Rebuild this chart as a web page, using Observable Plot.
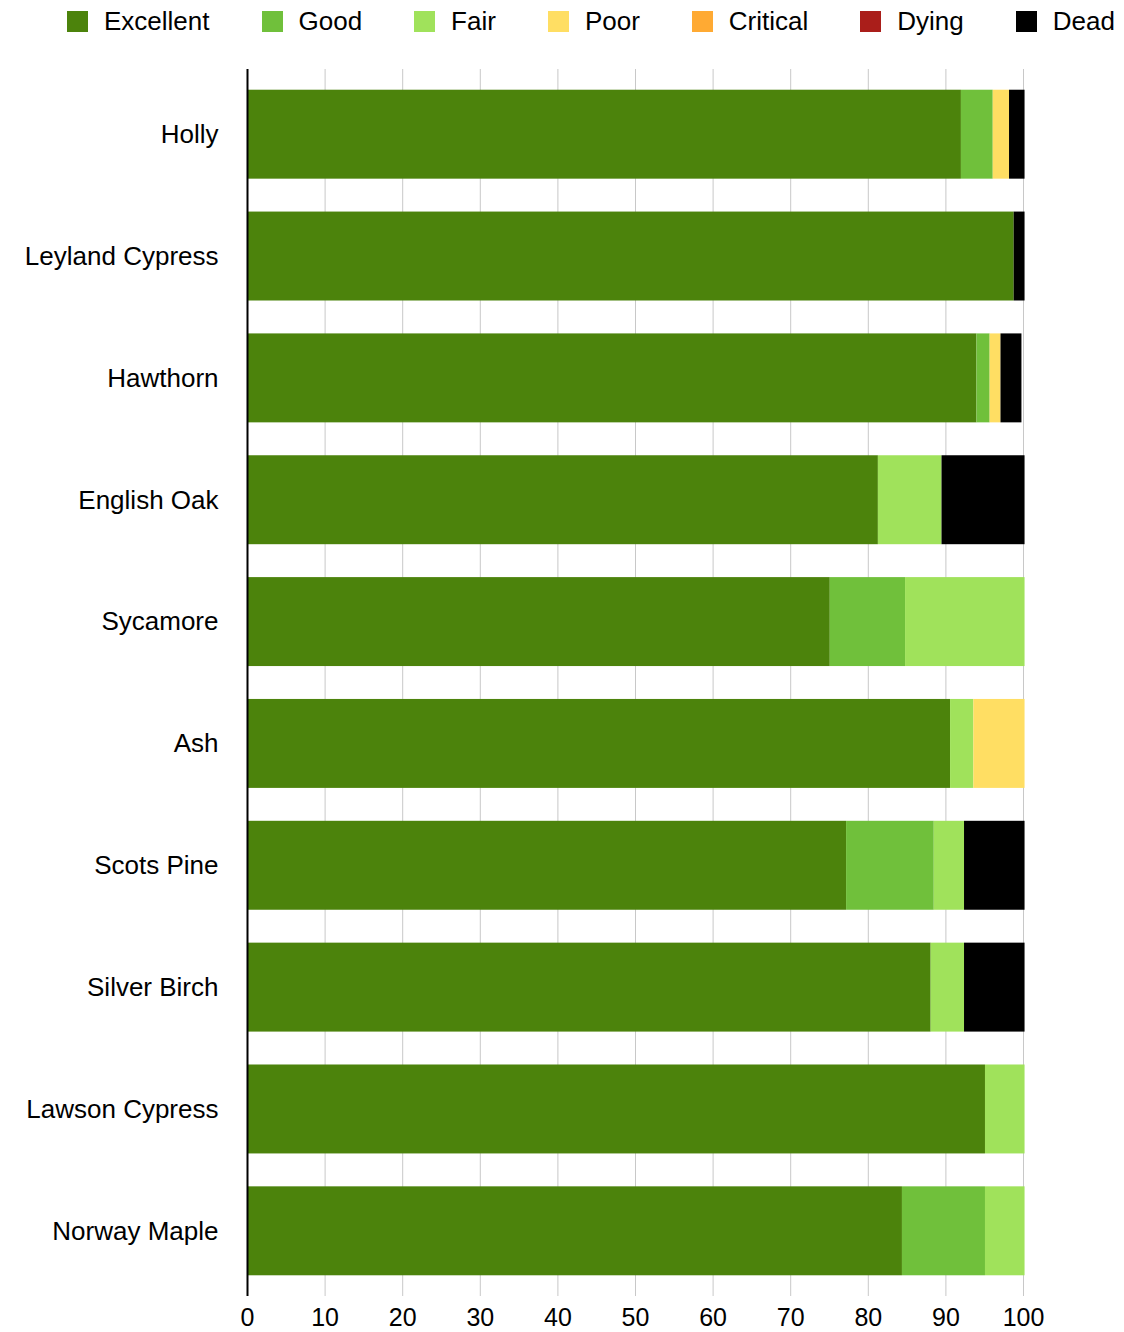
<!DOCTYPE html>
<html>
<head>
<meta charset="utf-8">
<script src="https://cdn.jsdelivr.net/npm/d3@7"></script>
<script src="https://cdn.jsdelivr.net/npm/@observablehq/plot@0.6"></script>
<style>
  html, body { margin: 0; padding: 0; background: #fff; }
  body { width: 1124px; height: 1332px; overflow: hidden; font-family: "Liberation Sans", Arial, Helvetica, sans-serif; color: #000; }
  #legend { height: 50px; display: flex; align-items: flex-start; padding-left: 67px; gap: 52px; box-sizing: border-box; }
  .item { display: flex; align-items: center; height: 42px; font-size: 26px; line-height: 1; }
  .sw { width: 21px; height: 21px; margin-right: 16px; }
  .item span { position: relative; top: 0px; }
</style>
</head>
<body>
<div id="legend"></div>
<div id="chart"></div>
<script>
const species = ["Holly", "Leyland Cypress", "Hawthorn", "English Oak", "Sycamore", "Ash", "Scots Pine", "Silver Birch", "Lawson Cypress", "Norway Maple"];
const conditions = ["Excellent", "Good", "Fair", "Poor", "Critical", "Dying", "Dead"];
const conditionColors = ["#4c830c", "#70c03b", "#a0e25b", "#ffde63", "#ffaa33", "#aa1e1a", "#000000"];

const excellent = [92.0, 98.8, 94.0, 81.3, 75.1, 90.6, 77.2, 88.1, 95.1, 84.4];
const good      = [4.1, 0, 1.7, 0, 9.7, 0, 11.3, 0, 0, 10.7];
const fair      = [0, 0, 0, 8.2, 15.4, 3.0, 3.9, 4.3, 5.1, 5.1];
const poor      = [2.1, 0, 1.4, 0, 0, 6.6, 0, 0, 0, 0];
const critical  = [0, 0, 0, 0, 0, 0, 0, 0, 0, 0];
const dying     = [0, 0, 0, 0, 0, 0, 0, 0, 0, 0];
const dead      = [2.0, 1.4, 2.7, 10.7, 0, 0, 7.8, 7.8, 0, 0];

const xTicks = [0, 10, 20, 30, 40, 50, 60, 70, 80, 90, 100];

const series = [excellent, good, fair, poor, critical, dying, dead];
const data = [];
species.forEach((s, i) => {
  conditions.forEach((c, j) => {
    data.push({species: s, condition: c, value: series[j][i]});
  });
});

// legend
const legend = document.getElementById("legend");
conditions.forEach((c, j) => {
  const it = document.createElement("div");
  it.className = "item";
  const sw = document.createElement("div");
  sw.className = "sw";
  sw.style.background = conditionColors[j];
  const t = document.createElement("span");
  t.textContent = c;
  it.appendChild(sw);
  it.appendChild(t);
  legend.appendChild(it);
});

const font = '"Liberation Sans", Arial, Helvetica, sans-serif';
const chart = Plot.plot({
  width: 1124,
  height: 1282,
  marginTop: 19,
  marginBottom: 36,
  marginLeft: 247,
  marginRight: 101,
  style: {fontSize: "26px", fontFamily: font, color: "#000", background: "#fff", overflow: "visible"},
  x: {domain: [0, 100], label: null},
  y: {domain: species, label: null, paddingInner: 0.27, paddingOuter: 0.17, round: false},
  color: {domain: conditions, range: conditionColors},
  marks: [
    Plot.gridX(xTicks.filter(d => d > 0), {stroke: "#c8c8c8", strokeOpacity: 1, strokeWidth: 1}),
    Plot.barX(data, Plot.stackX({x: "value", y: "species", fill: "condition", order: null})),
    Plot.ruleX([0], {stroke: "#000", strokeWidth: 2}),
    Plot.axisX({ticks: xTicks, tickSize: 0, tickPadding: 12, fontSize: 25, label: null, tickFormat: d => String(d)}),
    Plot.axisY({tickSize: 0, tickPadding: 29, fontSize: 26, label: null})
  ]
});
document.getElementById("chart").appendChild(chart);
</script>
</body>
</html>
